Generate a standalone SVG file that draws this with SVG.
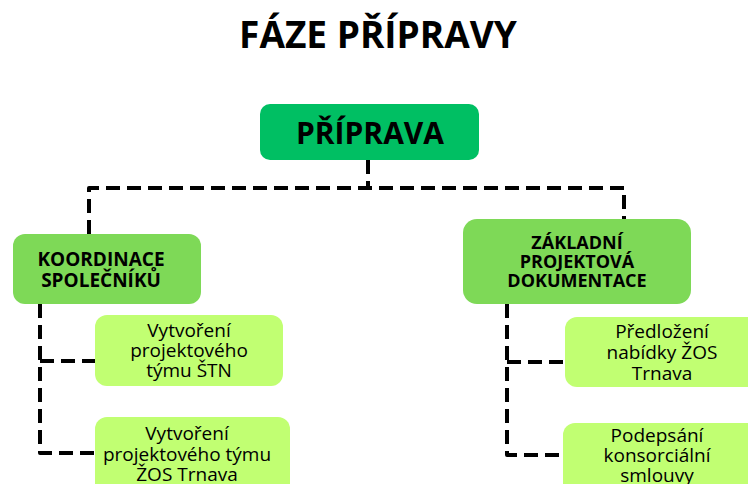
<svg xmlns="http://www.w3.org/2000/svg" width="748" height="484" viewBox="0 0 748 484">
<style>
.t{font-family:"Open Sans","Liberation Sans",sans-serif;fill:#000;text-anchor:middle}
.b{font-weight:bold}
.main{fill:#00BF63}
.mid{fill:#7ED957}
.leaf{fill:#C1FF72}
.c{fill:none;stroke:#000;stroke-width:4;stroke-dasharray:14 7;stroke-linejoin:round}
</style>
<rect width="748" height="484" fill="#fff"/>
<text class="t b" x="378" y="48" font-size="37">FÁZE PŘÍPRAVY</text>
<g id="connectors">
<path class="c" d="M368 160 V188"/>
<path class="c" d="M89 234 V188 H624 V220"/>
<path class="c" d="M40 304 V453 H95"/>
<path class="c" d="M40 361 H95"/>
<path class="c" d="M507 304 V455 H563"/>
<path class="c" d="M507 362 H565"/>
</g>
<g id="priprava">
<rect class="main" x="260" y="104" width="219" height="56" rx="10"/>
<text class="t b" x="370" y="144" font-size="30">PŘÍPRAVA</text>
</g>
<g id="koordinace">
<rect class="mid" x="13" y="234" width="188" height="70" rx="12"/>
<text class="t b" font-size="19"><tspan x="101" y="266">KOORDINACE</tspan><tspan x="101" y="287">SPOLEČNÍKŮ</tspan></text>
</g>
<g id="zakladni">
<rect class="mid" x="463" y="219" width="228" height="85" rx="14"/>
<text class="t b" font-size="18"><tspan x="577" y="249">ZÁKLADNÍ</tspan><tspan x="577" y="268">PROJEKTOVÁ</tspan><tspan x="577" y="287">DOKUMENTACE</tspan></text>
</g>
<g id="tym-stn">
<rect class="leaf" x="95" y="315" width="188" height="71" rx="12"/>
<text class="t" font-size="19"><tspan x="189" y="337">Vytvoření</tspan><tspan x="189" y="357">projektového</tspan><tspan x="189" y="377">týmu ŠTN</tspan></text>
</g>
<g id="tym-zos">
<rect class="leaf" x="95" y="417" width="195" height="90" rx="12"/>
<text class="t" font-size="19"><tspan x="187" y="440">Vytvoření</tspan><tspan x="187" y="461">projektového týmu</tspan><tspan x="187" y="481">ŽOS Trnava</tspan></text>
</g>
<g id="nabidka">
<rect class="leaf" x="565" y="317" width="200" height="70" rx="12"/>
<text class="t" font-size="19"><tspan x="662" y="338">Předložení</tspan><tspan x="662" y="359">nabídky ŽOS</tspan><tspan x="662" y="380">Trnava</tspan></text>
</g>
<g id="smlouva">
<rect class="leaf" x="563" y="423" width="200" height="80" rx="12"/>
<text class="t" font-size="19"><tspan x="657" y="442">Podepsání</tspan><tspan x="657" y="462">konsorciální</tspan><tspan x="657" y="482">smlouvy</tspan></text>
</g>
</svg>
